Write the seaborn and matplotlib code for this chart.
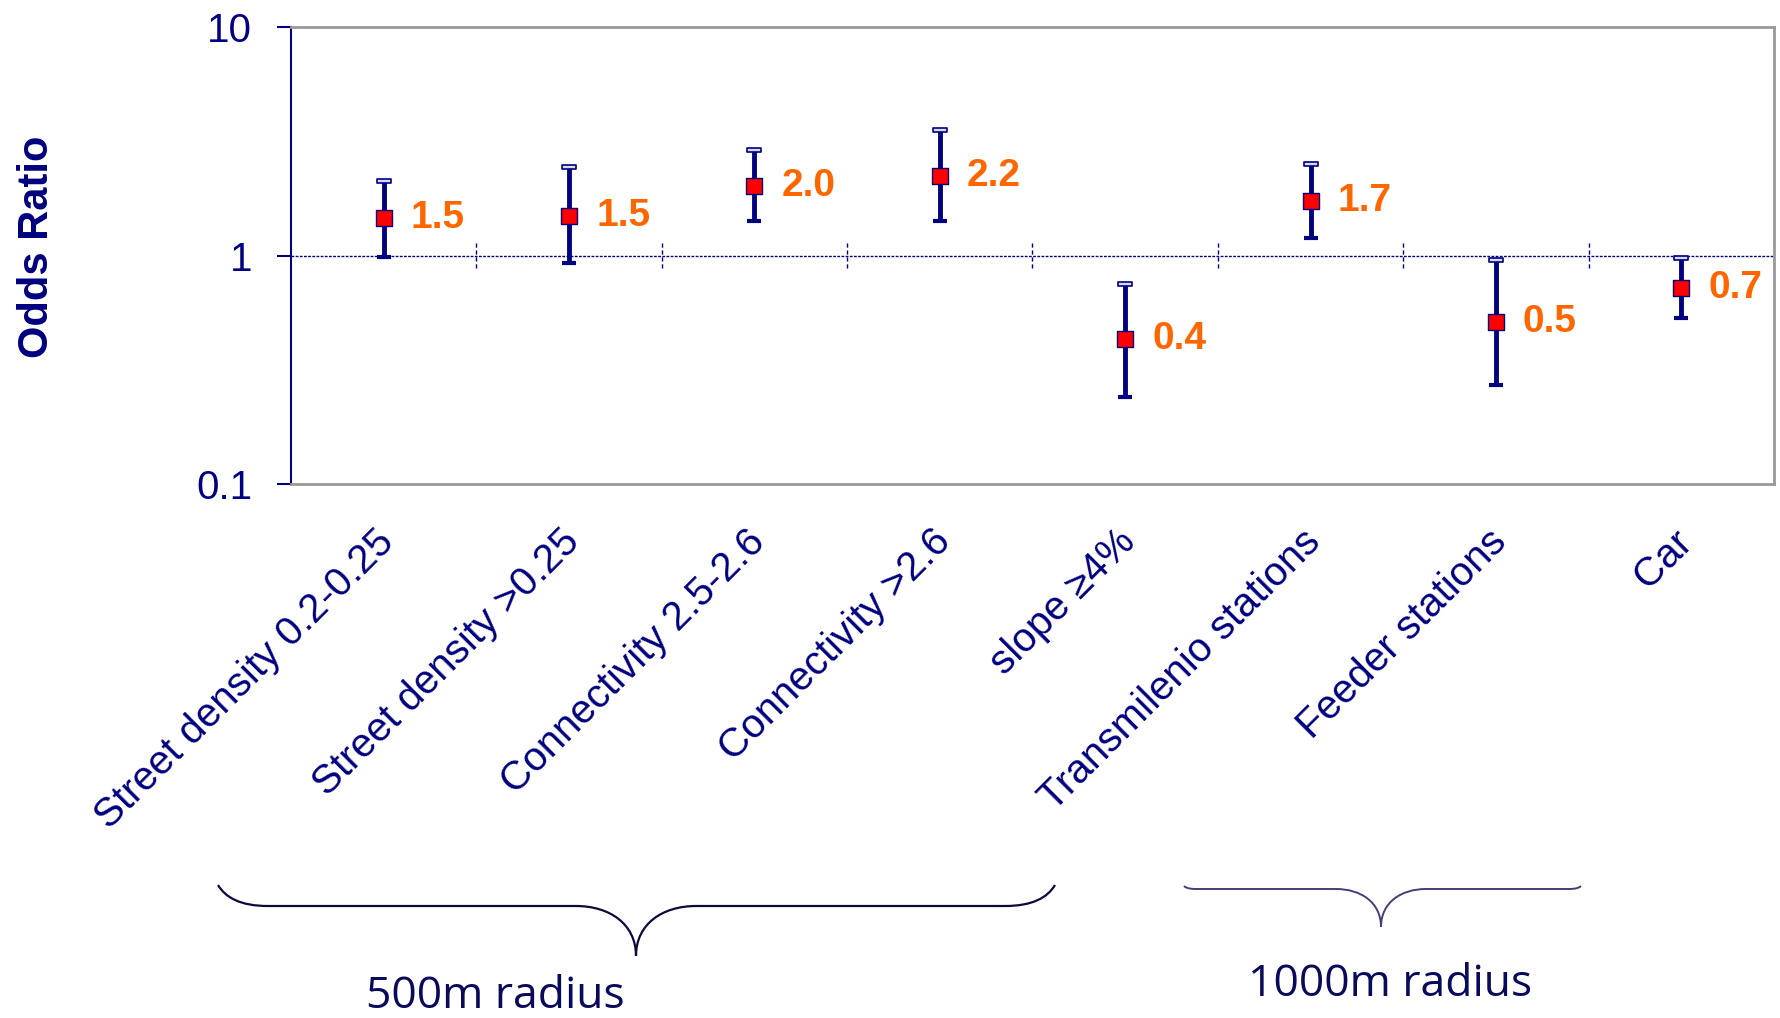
import numpy as np
import pandas as pd
import matplotlib.pyplot as plt
import matplotlib.transforms as mtransforms
import seaborn as sns
from matplotlib.path import Path
from matplotlib.patches import PathPatch
from matplotlib.ticker import NullLocator

sns.set_theme(style="white")
plt.rcParams["font.family"] = ["Liberation Sans", "DejaVu Sans"]

# --- data ---
categories = ["Street density 0.2-0.25", "Street density >0.25",
              "Connectivity 2.5-2.6", "Connectivity >2.6", "slope \u22654%",
              "Transmilenio stations", "Feeder stations", "Car"]
odds = [1.46, 1.49, 2.01, 2.23, 0.43, 1.73, 0.51, 0.72]
ci_low = [0.99, 0.93, 1.41, 1.41, 0.24, 1.19, 0.27, 0.53]
ci_high = [2.13, 2.44, 2.89, 3.56, 0.75, 2.51, 0.96, 0.98]
group_labels = ["500m radius", "1000m radius"]

NAVY = "#000080"
ORANGE = "#FF6600"

df = pd.DataFrame({"factor": categories, "OR": odds, "lo": ci_low, "hi": ci_high})
xpos = np.arange(len(df))

W, H = 1780, 1018
fig = plt.figure(figsize=(W / 100, H / 100), dpi=100)
ax = fig.add_axes([0.1635, 0.525, 0.8331, 0.448])

ax.set_yscale("log")
ax.set_ylim(0.1, 10)
ax.set_xlim(-0.5, len(df) - 0.5)

# reference line at OR = 1 with little dashed separators between categories
ax.axhline(1, color=NAVY, lw=1, ls=(0, (2, 1)), zorder=1)
ax.vlines(xpos + 0.5, 0.885, 1.13, color=NAVY, lw=1, ls=(0, (3, 2)), zorder=1)

# confidence intervals
ax.errorbar(xpos, df["OR"], yerr=[df["OR"] - df["lo"], df["hi"] - df["OR"]],
            fmt="none", ecolor=NAVY, elinewidth=3.5, capsize=0, zorder=2)
ax.plot(xpos, df["lo"], ls="", marker="_", ms=9.5, mew=3, color=NAVY, zorder=2)
cap = Path([(-1, -0.3), (1, -0.3), (1, 0.3), (-1, 0.3), (-1, -0.3)],
           [Path.MOVETO, Path.LINETO, Path.LINETO, Path.LINETO, Path.CLOSEPOLY])
ax.plot(xpos, df["hi"], ls="", marker=cap, ms=10, mfc="#D8D8F2", mec=NAVY,
        mew=1.2, zorder=2)

# point estimates
sns.scatterplot(x=xpos, y=df["OR"], marker="s", s=130, color="red",
                edgecolor=NAVY, linewidth=1, zorder=3, ax=ax, legend=False)

for x, y in zip(xpos, df["OR"]):
    ax.annotate(f"{y:.1f}", (x, y), xytext=(19.5, 0), textcoords="offset points",
                ha="left", va="center", fontsize=28, fontweight="bold", color=ORANGE)

# axes styling
ax.set_xticks(xpos)
ax.set_xticklabels(categories, rotation=45, ha="right", va="top",
                   rotation_mode="anchor", fontsize=29, color=NAVY)
ax.tick_params(axis="x", length=0, pad=28)
shift = mtransforms.ScaledTranslation(-0.09, 0, fig.dpi_scale_trans)
for lab in ax.get_xticklabels():
    lab.set_transform(lab.get_transform() + shift)

ax.set_yticks([0.1, 1, 10])
ax.set_yticklabels(["0.1", "1", "10"])
ax.yaxis.set_minor_locator(NullLocator())
ax.tick_params(axis="y", left=True, length=10, width=1.5, color=NAVY,
               labelsize=29, labelcolor=NAVY, pad=18, direction="out")
ax.set_xlabel("")
ax.set_ylabel("Odds Ratio", fontsize=30, fontweight="bold", color=NAVY)
ax.yaxis.set_label_coords(-0.158, 0.519)

for s in ["top", "right", "bottom"]:
    ax.spines[s].set_color("#999999")
    ax.spines[s].set_linewidth(2)
ax.spines["left"].set_color(NAVY)
ax.spines["left"].set_linewidth(1.5)


# --- group braces below the labels ---
def brace(x0, x1, xc, ytop, yflat, ytip, r, rm, color, lw):
    def p(x, y):
        return (x / W, 1 - y / H)
    dy = yflat - ytop
    dt = ytip - yflat
    verts = [p(x0, ytop),
             p(x0 + 0.15 * r, ytop + 0.6 * dy), p(x0 + 0.45 * r, yflat), p(x0 + r, yflat),
             p(xc - rm, yflat),
             p(xc - 0.45 * rm, yflat), p(xc, yflat + 0.35 * dt), p(xc, ytip),
             p(xc, yflat + 0.35 * dt), p(xc + 0.45 * rm, yflat), p(xc + rm, yflat),
             p(x1 - r, yflat),
             p(x1 - 0.45 * r, yflat), p(x1 - 0.15 * r, ytop + 0.6 * dy), p(x1, ytop)]
    codes = [Path.MOVETO, Path.CURVE4, Path.CURVE4, Path.CURVE4, Path.LINETO,
             Path.CURVE4, Path.CURVE4, Path.CURVE4, Path.CURVE4, Path.CURVE4, Path.CURVE4,
             Path.LINETO, Path.CURVE4, Path.CURVE4, Path.CURVE4]
    fig.add_artist(PathPatch(Path(verts, codes), transform=fig.transFigure,
                             fill=False, edgecolor=color, lw=lw))


brace(218, 1055, 636, 885, 906, 956, 50, 60, "#0A0A3C", 1.6)
brace(1184, 1581, 1381, 886, 889, 927, 12, 45, "#4B3B7A", 1.4)

fig.text(495 / W, 1 - 1008 / H, group_labels[0], ha="center", va="baseline",
         fontsize=32, family="Open Sans", color="#0A0A5A")
fig.text(1390 / W, 1 - 996 / H, group_labels[1], ha="center", va="baseline",
         fontsize=32, family="Open Sans", color="#0A0A5A")

fig.savefig("out.png", dpi=100)
